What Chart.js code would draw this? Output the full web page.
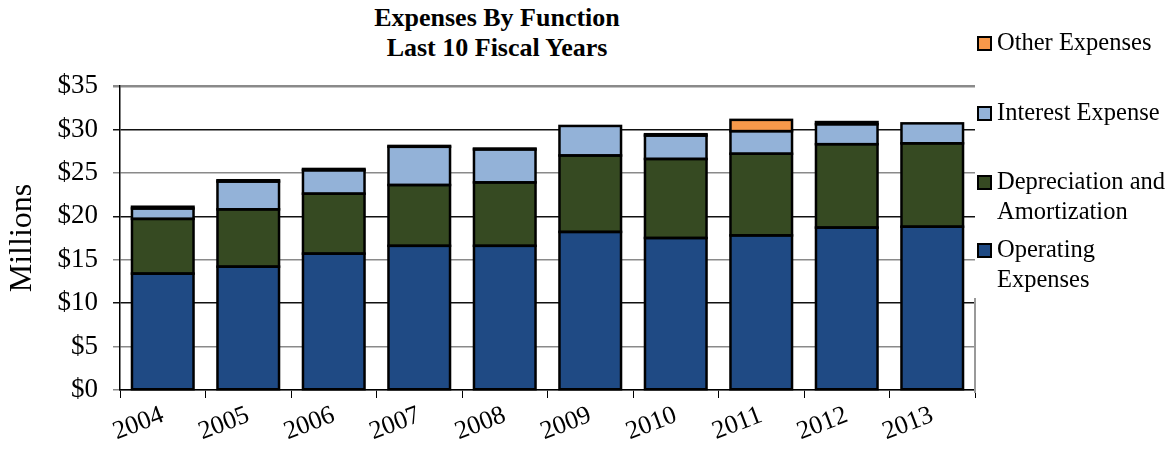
<!DOCTYPE html>
<html>
<head>
<meta charset="utf-8">
<script src="https://cdn.jsdelivr.net/npm/chart.js@4"></script>
<style>
  html, body { margin: 0; padding: 0; background: #fff; }
  body { width: 1175px; height: 452px; position: relative; overflow: hidden; font-family: "Liberation Serif", serif; }
  #wrap { position: absolute; left: 0; top: 0; width: 995px; height: 452px; }
  #title { position: absolute; left: 247px; width: 500px; top: 3px; text-align: center; font-weight: bold; font-size: 26px; line-height: 30px; color: #000; }
  #legend { position: absolute; left: 977px; top: 0; font-size: 24.5px; color: #000; }
  .item { position: absolute; left: 0; white-space: nowrap; line-height: 30px; }
  .box { position: absolute; left: 0; top: 9px; width: 11px; height: 11px; border: 2px solid #000; }
  .txt { position: absolute; left: 20px; top: 0; }
  #edge { position: absolute; left: 974px; top: 298px; width: 2px; height: 95px; background: #999; }
</style>
</head>
<body>
<div id="title">Expenses By Function<br>Last 10 Fiscal Years</div>
<div id="wrap"><canvas id="chart"></canvas></div>
<div id="edge"></div>
<div id="legend"></div>
<script>
// 数据
const years = ['2004', '2005', '2006', '2007', '2008', '2009', '2010', '2011', '2012', '2013'];
const operating = [13.4, 14.2, 15.7, 16.6, 16.6, 18.2, 17.5, 17.8, 18.7, 18.8];
const depreciation = [6.3, 6.6, 6.9, 7.0, 7.3, 8.8, 9.1, 9.4, 9.6, 9.6];
const interest = [1.2, 3.2, 2.7, 4.4, 3.8, 3.4, 2.7, 2.6, 2.3, 2.3];
const other = [0.2, 0.15, 0.15, 0.1, 0.1, null, 0.15, 1.3, 0.25, null];
const yTicks = [0, 5, 10, 15, 20, 25, 30, 35];

const series = [
    { label: 'Operating Expenses', lines: ['Operating', 'Expenses'], data: operating, color: '#1F4A84', top: 234 },
    { label: 'Depreciation and Amortization', lines: ['Depreciation and', 'Amortization'], data: depreciation, color: '#364A22', top: 166 },
    { label: 'Interest Expense', lines: ['Interest Expense'], data: interest, color: '#93B2D8', top: 97 },
    { label: 'Other Expenses', lines: ['Other Expenses'], data: other, color: '#F7984A', top: 27 }
];

const serif = '"Liberation Serif", "Times New Roman", serif';

// 每个柱段描黑边 (位置取自库计算出的元素)
const outlinePlugin = {
    id: 'outline',
    afterDatasetsDraw(chart) {
        const ctx = chart.ctx;
        ctx.save();
        ctx.strokeStyle = '#000';
        ctx.lineWidth = 2.5;
        chart.data.datasets.forEach((ds, i) => {
            chart.getDatasetMeta(i).data.forEach((bar, j) => {
                if (ds.data[j] == null) return;
                const { x, y, base, width } = bar.getProps(['x', 'y', 'base', 'width'], true);
                const top = Math.min(y, base);
                ctx.strokeRect(x - width / 2, top, width, Math.abs(base - y));
            });
        });
        ctx.restore();
    }
};

new Chart(document.getElementById('chart').getContext('2d'), {
    type: 'bar',
    data: {
        labels: years,
        datasets: series.map(s => ({
            label: s.label,
            data: s.data,
            backgroundColor: s.color,
            borderWidth: 0,
            barPercentage: 0.72,
            categoryPercentage: 1
        }))
    },
    options: {
        responsive: true,
        maintainAspectRatio: false,
        animation: false,
        layout: { padding: { top: 86, right: 20, bottom: 0, left: 0 } },
        plugins: { legend: { display: false }, tooltip: { enabled: false }, title: { display: false } },
        scales: {
            x: {
                stacked: true,
                grid: { drawOnChartArea: false, drawTicks: true, tickLength: 8, color: '#000', offset: true },
                border: { display: true, color: '#000', width: 1.5 },
                ticks: { color: '#000', font: { family: serif, size: 26 }, minRotation: 21, maxRotation: 21, padding: 2 },
                afterFit: s => { s.height = 62; }
            },
            y: {
                stacked: true,
                min: 0,
                max: 35,
                afterBuildTicks: s => { s.ticks = yTicks.map(v => ({ value: v })); },
                afterFit: s => { s.width = 120; },
                grid: {
                    tickLength: 7,
                    color: c => (c.tick && c.tick.value % 10 === 0 && c.tick.value !== 0) ? '#111' : '#8a8a8a',
                    lineWidth: c => (c.tick && c.tick.value === 35) ? 2.5 : 1.5
                },
                border: { display: true, color: '#000', width: 1.5 },
                ticks: { color: '#000', font: { family: serif, size: 27 }, padding: 15, callback: v => '$' + v },
                title: { display: true, text: 'Millions', color: '#000', font: { family: serif, size: 32 }, padding: { top: 3, bottom: 0 } }
            }
        }
    },
    plugins: [outlinePlugin]
});

// 图例 (HTML)
const legend = document.getElementById('legend');
series.forEach(s => {
    const item = document.createElement('div');
    item.className = 'item';
    item.style.top = s.top + 'px';
    item.innerHTML = `<div class="box" style="background:${s.color}"></div><div class="txt">${s.lines.join('<br>')}</div>`;
    legend.appendChild(item);
});
</script>
</body>
</html>
